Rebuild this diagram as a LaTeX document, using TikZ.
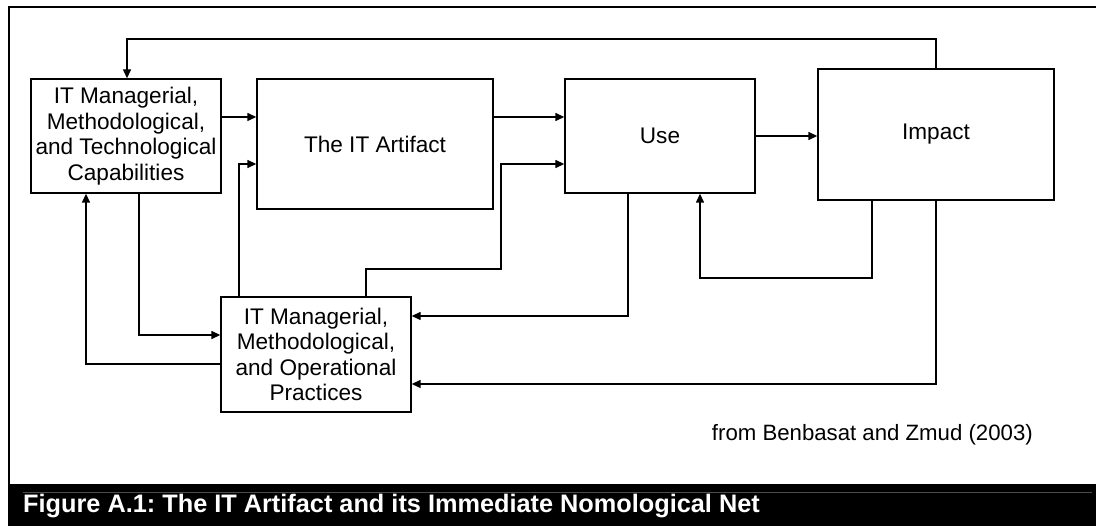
\documentclass[tikz,border=0pt]{standalone}
\usepackage{fontspec}
\setmainfont{Liberation Sans}
\usetikzlibrary{arrows.meta}
\frenchspacing
\begin{document}
\begin{tikzpicture}[x=1pt,y=-1pt,
  box/.style={draw,line width=1.4pt,inner sep=0pt,align=center,
    font=\fontsize{22.6}{25.5}\selectfont},
  arr/.style={line width=1.4pt,-{Triangle[length=9pt,width=8pt]}},
  ln/.style={line width=1.4pt}]
\useasboundingbox (0,0) rectangle (1096,526);
% frame
\fill[black] (8,484) rectangle (1096,526);
\draw[line width=2pt] (8.5,484) -- (8.5,7.5) -- (1096,7.5);
\draw[gray!60!black,line width=0.8pt] (23,492) -- (1092,492);
% boxes
\node[box,minimum width=190pt,minimum height=114pt] (A) at (126,136)
  {IT Managerial,\\Methodological,\\and Technological\\Capabilities};
\node[box,minimum width=236pt,minimum height=130pt] (B) at (375,144)
  {The IT Artifact};
\node[box,minimum width=190pt,minimum height=114pt] (U) at (660,136)
  {Use};
\node[box,minimum width=236pt,minimum height=131pt] (I) at (936,134.5)
  {Impact};
\node[box,minimum width=190pt,minimum height=115pt] (P) at (316,354.5)
  {IT Managerial,\\Methodological,\\and Operational\\Practices};
% helper coordinates
\coordinate (t1) at (127,39);
\coordinate (y1) at (0,117);
\coordinate (k1) at (239,164);
\coordinate (k2) at (366,269);
\coordinate (k3) at (501,164);
\coordinate (k4) at (628,316);
\coordinate (k5) at (872,278);
\coordinate (k6) at (700,278);
\coordinate (k7) at (936,384);
\coordinate (k8) at (139,335);
\coordinate (k9) at (86,364);
% connectors
\draw[arr] (I.north) |- (t1) -- (A.north -| t1);
\draw[arr] (A.east |- y1) -- (B.west |- y1);
\draw[arr] (P.north -| k1) |- (B.west |- k1);
\draw[arr] (B.east |- y1) -- (U.west |- y1);
\draw[arr] (P.north -| k2) -- (k2) -| (k3) -- (U.west |- k3);
\draw[arr] (U.east) -- (I.west |- U.east);
\draw[arr] (U.south -| k4) |- (P.east |- k4);
\draw[arr] (I.south -| k5) -- (k5) -- (k6) -- (U.south -| k6);
\draw[arr] (I.south) |- (P.east |- k7);
\draw[arr] (A.south -| k8) |- (P.west |- k8);
\draw[arr] (P.west |- k9) -| (A.south -| k9);
% texts
\node[anchor=base east,inner sep=0pt,font=\fontsize{22.2}{26}\selectfont] (src) at (1033,441)
  {from Benbasat and Zmud (2003)};
\node[anchor=base west,inner sep=0pt,text=white,font=\fontsize{25.3}{28}\selectfont\bfseries] (cap) at (23,513)
  {Figure A.1: The IT Artifact and its Immediate Nomological Net};
\end{tikzpicture}
\end{document}
